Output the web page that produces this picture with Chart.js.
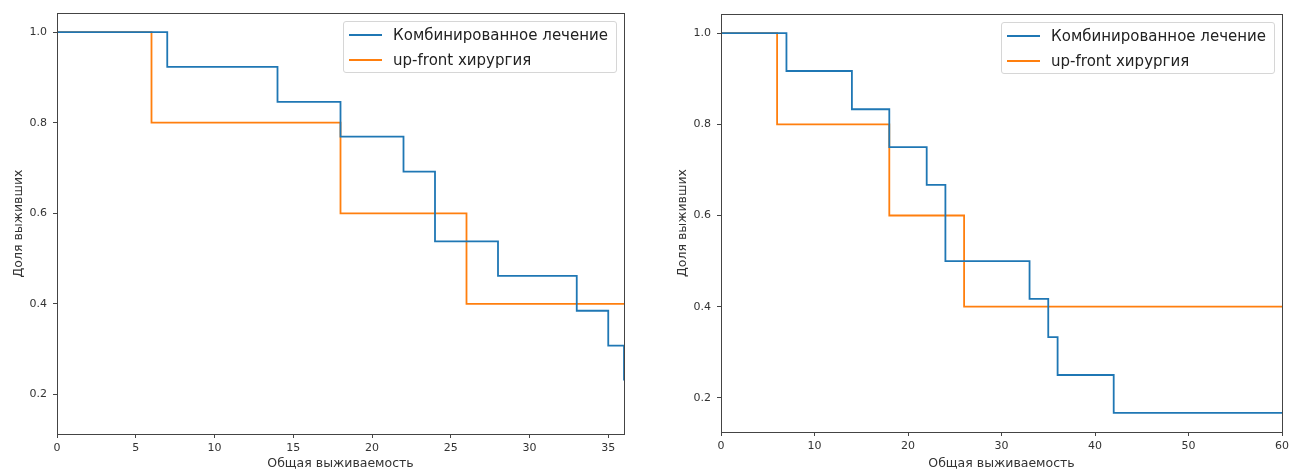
<!DOCTYPE html>
<html>
<head>
<meta charset="utf-8">
<script src="https://cdn.jsdelivr.net/npm/chart.js@4.4.1/dist/chart.umd.min.js"></script>
<style>
  body { margin: 0; background: #fff; width: 1293px; height: 470px; overflow: hidden; font-family: "DejaVu Sans", sans-serif; }
  .box { position: absolute; top: 0; height: 470px; }
  .legend { position: absolute; background: rgba(255,255,255,0.85); border: 1px solid #d6d6d6; border-radius: 3px; padding: 0 8px 0 5px; font-size: 15px; color: #222; }
  .legend .row { display: flex; align-items: center; height: 25px; white-space: nowrap; }
  .legend .swatch { width: 33px; height: 2px; margin-right: 11px; }
</style>
</head>
<body>
<div class="box" id="b1" style="left:0;width:640px"><canvas id="c1"></canvas></div>
<div class="box" id="b2" style="left:664px;width:629px"><canvas id="c2"></canvas></div>
<script>
// левый график (до 36 мес.)
var timeA_comb = [0, 7, 14, 18, 22, 24, 28, 33, 35, 36];
var survA_comb = [1.0, 0.923, 0.846, 0.769, 0.692, 0.538, 0.462, 0.385, 0.308, 0.231];
var timeA_up = [0, 6, 18, 26, 36];
var survA_up = [1.0, 0.8, 0.6, 0.4, 0.4];
var xTicksA = [0, 5, 10, 15, 20, 25, 30, 35];

// правый график (до 60 мес.)
var timeB_comb = [0, 7, 14, 18, 22, 24, 33, 35, 36, 42, 60];
var survB_comb = [1.0, 0.917, 0.833, 0.75, 0.667, 0.5, 0.417, 0.333, 0.25, 0.167, 0.167];
var timeB_up = [0, 6, 18, 26, 60];
var survB_up = [1.0, 0.8, 0.6, 0.4, 0.4];
var xTicksB = [0, 10, 20, 30, 40, 50, 60];

var yTicks = [0.2, 0.4, 0.6, 0.8, 1.0];
var labels = ['Комбинированное лечение', 'up-front хирургия'];
var colors = ['#1f77b4', '#ff7f0e'];

function pts(t, s) {
  return t.map(function (v, i) { return { x: v, y: s[i] }; });
}

var frame = {
  id: 'frame',
  afterDraw: function (chart) {
    var a = chart.chartArea, ctx = chart.ctx;
    ctx.save();
    ctx.strokeStyle = '#444';
    ctx.lineWidth = 1;
    ctx.strokeRect(Math.round(a.left) + 0.5, Math.round(a.top) + 0.5, Math.round(a.right - a.left), Math.round(a.bottom - a.top));
    ctx.restore();
  }
};

function makeChart(id, box, tc, sc, tu, su, xmax, xt, ymin, pad, xh) {
  var tickFont = { family: 'DejaVu Sans', size: 11 };
  var titleFont = { family: 'DejaVu Sans', size: 12.5 };
  var chart = new Chart(document.getElementById(id), {
    type: 'line',
    data: {
      datasets: [
        { label: labels[0], data: pts(tc, sc), stepped: 'before', borderColor: colors[0], borderWidth: 1.8, pointRadius: 0, fill: false },
        { label: labels[1], data: pts(tu, su), stepped: 'before', borderColor: colors[1], borderWidth: 1.8, pointRadius: 0, fill: false }
      ]
    },
    options: {
      responsive: true,
      maintainAspectRatio: false,
      animation: false,
      layout: { padding: pad },
      plugins: { legend: { display: false }, tooltip: { enabled: false } },
      scales: {
        x: {
          type: 'linear', min: 0, max: xmax,
          afterBuildTicks: function (s) { s.ticks = xt.map(function (v) { return { value: v }; }); },
          afterFit: function (s) { s.height = xh; },
          grid: { drawOnChartArea: false, drawTicks: true, tickLength: 4, color: '#444' },
          border: { display: false },
          ticks: { font: tickFont, color: '#333', padding: 4, maxRotation: 0, callback: function (v) { return String(v); } },
          title: { display: true, text: 'Общая выживаемость', font: titleFont, color: '#333', padding: { top: 0, bottom: -1 } }
        },
        y: {
          type: 'linear', min: ymin, max: 1.042,
          afterBuildTicks: function (s) { s.ticks = yTicks.map(function (v) { return { value: v }; }); },
          afterFit: function (s) { s.width = 57; },
          grid: { drawOnChartArea: false, drawTicks: true, tickLength: 4, color: '#444' },
          border: { display: false },
          ticks: { font: tickFont, color: '#333', padding: 6, callback: function (v) { return v.toFixed(1); } },
          title: { display: true, text: 'Доля выживших', font: titleFont, color: '#333', padding: { top: 11, bottom: 0 } }
        }
      }
    },
    plugins: [frame]
  });

  var a = chart.chartArea;
  var lg = document.createElement('div');
  lg.className = 'legend';
  chart.data.datasets.forEach(function (d) {
    var r = document.createElement('div');
    r.className = 'row';
    var sw = document.createElement('span');
    sw.className = 'swatch';
    sw.style.background = d.borderColor;
    var tx = document.createElement('span');
    tx.textContent = d.label;
    r.appendChild(sw);
    r.appendChild(tx);
    lg.appendChild(r);
  });
  lg.style.top = (a.top + 8) + 'px';
  lg.style.right = (box.clientWidth - a.right + 7) + 'px';
  box.appendChild(lg);
  return chart;
}

makeChart('c1', document.getElementById('b1'), timeA_comb, survA_comb, timeA_up, survA_up, 36, xTicksA, 0.113,
  { top: 13, right: 16, left: 0, bottom: 0 }, 36);
makeChart('c2', document.getElementById('b2'), timeB_comb, survB_comb, timeB_up, survB_up, 60, xTicksB, 0.125,
  { top: 14, right: 7, left: 0, bottom: 0 }, 38);
</script>
</body>
</html>
